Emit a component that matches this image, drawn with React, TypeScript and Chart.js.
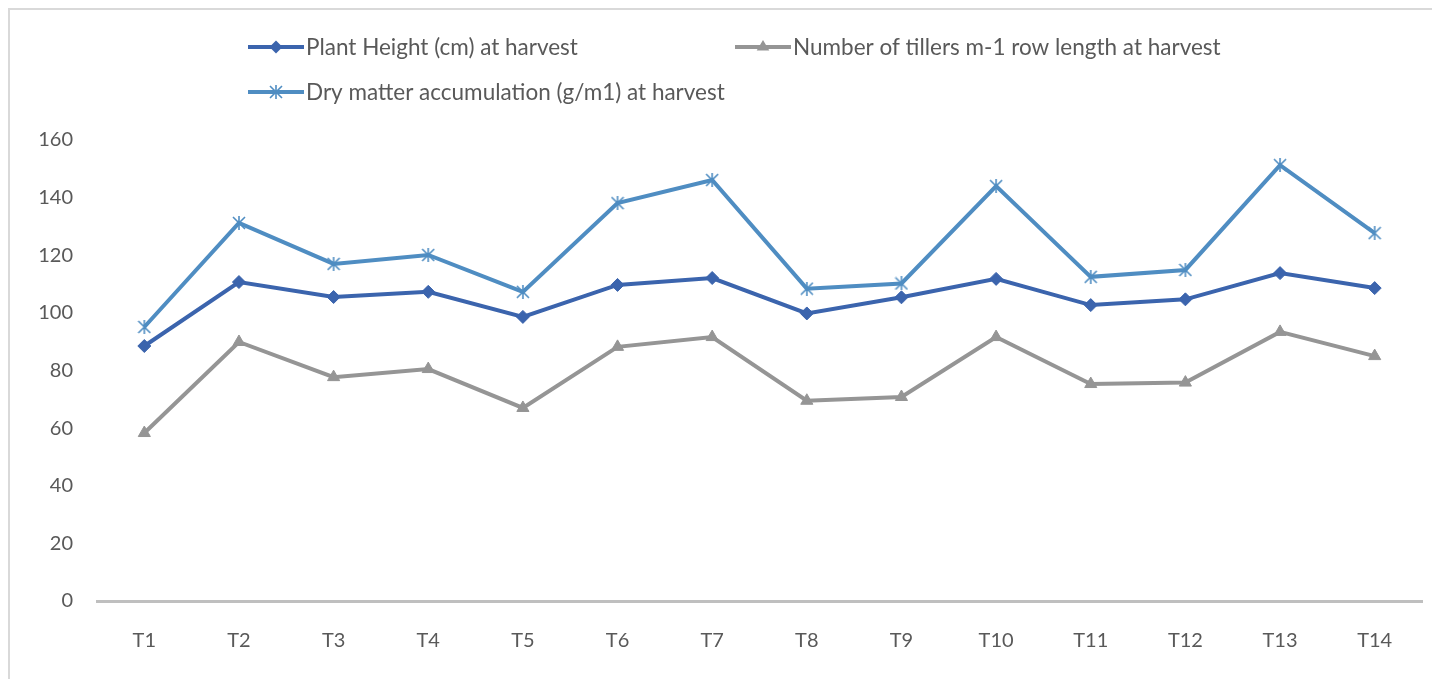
import React, { useEffect, useRef } from "react";
import { Chart, registerables } from "chart.js";

Chart.register(...registerables);

const categories = ["T1", "T2", "T3", "T4", "T5", "T6", "T7", "T8", "T9", "T10", "T11", "T12", "T13", "T14"];
const plantHeight = [88.5, 110.7, 105.5, 107.3, 98.6, 109.7, 112.1, 99.8, 105.4, 111.8, 102.7, 104.7, 113.8, 108.6];
const tillers = [58.3, 89.9, 77.7, 80.5, 67.0, 88.2, 91.6, 69.5, 70.8, 91.6, 75.3, 75.8, 93.4, 85.0];
const dryMatter = [95.1, 131.2, 117.0, 120.1, 107.3, 138.1, 146.1, 108.4, 110.2, 144.0, 112.5, 114.9, 151.3, 127.7];
const seriesNames = [
  "Plant Height (cm) at harvest",
  "Number of tillers m-1 row length at harvest",
  "Dry matter accumulation (g/m1) at harvest",
];
const yTicks = [0, 20, 40, 60, 80, 100, 120, 140, 160];

const FONT = "Lato, 'Open Sans', sans-serif";
const TEXT = "#595959";
const C_PLANT = "#3B64AD";
const C_TILL = "#959595";
const C_DRY = "#4F8DC2";

function makeAsterisk(color: string, size: number) {
  const c = document.createElement("canvas");
  c.width = size;
  c.height = size;
  const ctx = c.getContext("2d")!;
  ctx.strokeStyle = color;
  ctx.lineWidth = 1.6;
  const m = 1;
  ctx.beginPath();
  ctx.moveTo(m, m);
  ctx.lineTo(size - m, size - m);
  ctx.moveTo(size - m, m);
  ctx.lineTo(m, size - m);
  ctx.moveTo(size / 2, 0);
  ctx.lineTo(size / 2, size);
  ctx.stroke();
  return c;
}

function drawMarker(ctx: CanvasRenderingContext2D, style: any, r: number, color: string, x: number, y: number) {
  if (style instanceof HTMLCanvasElement) {
    ctx.drawImage(style, x - style.width / 2, y - style.height / 2);
    return;
  }
  ctx.fillStyle = color;
  ctx.beginPath();
  if (style === "rectRot") {
    ctx.moveTo(x, y - r);
    ctx.lineTo(x + r, y);
    ctx.lineTo(x, y + r);
    ctx.lineTo(x - r, y);
  } else if (style === "triangle") {
    const h = r * 1.5;
    ctx.moveTo(x, y - r);
    ctx.lineTo(x + r * 0.9, y - r + h);
    ctx.lineTo(x - r * 0.9, y - r + h);
  }
  ctx.closePath();
  ctx.fill();
}

const legendItems = [
  { x: 238, y: 37, ds: 0 },
  { x: 725, y: 37, ds: 1 },
  { x: 238, y: 82, ds: 2 },
];

export default function App() {
  const ref = useRef<HTMLCanvasElement | null>(null);

  useEffect(() => {
    if (!ref.current) return;
    const asterisk = makeAsterisk(C_DRY, 14);

    const chart = new Chart(ref.current, {
      type: "line",
      data: {
        labels: categories,
        datasets: [
          {
            label: seriesNames[0],
            data: plantHeight,
            borderColor: C_PLANT,
            backgroundColor: C_PLANT,
            borderWidth: 4,
            pointStyle: "rectRot",
            pointRadius: 6.5,
            pointBorderWidth: 1,
            tension: 0,
          },
          {
            label: seriesNames[1],
            data: tillers,
            borderColor: C_TILL,
            backgroundColor: C_TILL,
            borderWidth: 4,
            pointStyle: "triangle",
            pointRadius: 7,
            pointBorderWidth: 1,
            tension: 0,
          },
          {
            label: seriesNames[2],
            data: dryMatter,
            borderColor: C_DRY,
            backgroundColor: C_DRY,
            borderWidth: 4,
            pointStyle: asterisk as any,
            pointRadius: 7,
            pointBorderWidth: 1,
            tension: 0,
          },
        ],
      },
      options: {
        responsive: false,
        animation: false,
        layout: { padding: { top: 130, right: 18, left: 0, bottom: 0 } },
        plugins: {
          legend: { display: false },
          tooltip: { enabled: false },
        },
        scales: {
          x: {
            offset: true,
            grid: { display: false, drawTicks: false },
            border: { display: true, color: "#BFBFBF", width: 3 },
            ticks: {
              color: TEXT,
              font: { family: FONT, size: 20 },
              padding: 28,
            },
            afterFit(scale: any) {
              scale.height = 78;
            },
          },
          y: {
            min: 0,
            max: 160,
            afterBuildTicks(scale: any) {
              scale.ticks = yTicks.map((v) => ({ value: v }));
            },
            grid: { display: false, drawTicks: false },
            border: { display: false },
            ticks: {
              color: TEXT,
              font: { family: FONT, size: 20 },
              padding: 24,
            },
            afterFit(scale: any) {
              scale.width = 87;
            },
          },
        },
      },
      plugins: [
        {
          id: "legendFill",
          afterDraw(c: any) {
            const ctx = c.ctx as CanvasRenderingContext2D;
            ctx.save();
            legendItems.forEach((it) => {
              const ds = c.data.datasets[it.ds];
              const len = 56;
              ctx.strokeStyle = ds.borderColor;
              ctx.lineWidth = 4;
              ctx.beginPath();
              ctx.moveTo(it.x, it.y);
              ctx.lineTo(it.x + len, it.y);
              ctx.stroke();
              drawMarker(ctx, ds.pointStyle, ds.pointRadius, ds.backgroundColor, it.x + len / 2, it.y);
              ctx.fillStyle = TEXT;
              ctx.font = `22.5px ${FONT}`;
              ctx.textBaseline = "middle";
              ctx.textAlign = "left";
              ctx.fillText(ds.label, it.x + len + 2, it.y + 1);
            });
            ctx.restore();
          },
        },
      ],
    });
    return () => chart.destroy();
  }, []);

  return (
    <div
      style={{
        position: "relative",
        width: 1432,
        height: 671,
        boxSizing: "border-box",
        borderTop: "2px solid #D9D9D9",
        borderLeft: "2px solid #D9D9D9",
        background: "#fff",
      }}
    >
      <canvas ref={ref} width={1430} height={669} style={{ display: "block" }} />
    </div>
  );
}
